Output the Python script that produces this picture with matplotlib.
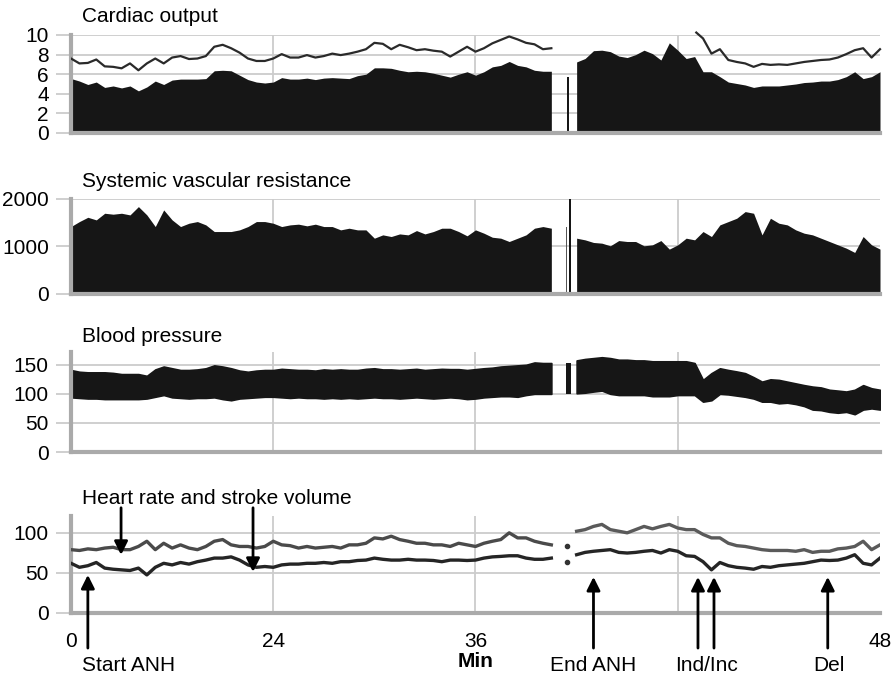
import numpy as np
import matplotlib
matplotlib.use("Agg")
import matplotlib.pyplot as plt

plt.rcParams["font.family"] = ["Liberation Sans", "DejaVu Sans"]

# ---- sample times (min): before and after the monitoring gap ----
t_pre = np.arange(0, 28.51, 0.5)
t_post = np.arange(30, 48.01, 0.5)

# ---- cardiac output (L/min) ----
co_fill_pre = [5.56, 5.3, 4.95, 5.2, 4.65, 4.8, 4.6, 4.8, 4.3, 4.7, 5.3, 4.95, 5.4, 5.5, 5.5,
               5.5, 5.55, 6.35, 6.4, 6.35, 5.9, 5.45, 5.2, 5.1, 5.2, 5.65, 5.5, 5.5, 5.6, 5.45,
               5.6, 5.65, 5.6, 5.55, 5.85, 6.0, 6.65, 6.65, 6.6, 6.4, 6.25, 6.3, 6.25, 6.1, 5.9,
               5.7, 6.0, 6.25, 5.9, 6.25, 6.75, 6.9, 7.3, 6.9, 6.75, 6.4, 6.3, 6.3]
co_fill_post = [7.25, 7.6, 8.4, 8.45, 8.3, 7.85, 7.7, 8.0, 8.45, 8.1, 7.45, 9.2, 8.45, 7.6, 7.8,
                6.25, 6.25, 5.75, 5.2, 5.05, 4.9, 4.65, 4.8, 4.8, 4.8, 4.9, 5.0, 5.15, 5.2, 5.3,
                5.3, 5.45, 5.75, 6.25, 5.55, 5.75, 6.25]
co_line_pre = [7.6, 7.1, 7.15, 7.5, 6.8, 6.75, 6.6, 7.1, 6.4, 7.1, 7.6, 7.1, 7.7, 7.85, 7.55,
               7.6, 7.85, 8.8, 9.0, 8.65, 8.2, 7.6, 7.35, 7.35, 7.6, 8.05, 7.7, 7.7, 7.95, 7.7,
               7.85, 8.1, 7.95, 8.1, 8.3, 8.55, 9.2, 9.1, 8.55, 9.0, 8.75, 8.45, 8.55, 8.4, 8.3,
               7.8, 8.3, 8.8, 8.3, 8.65, 9.15, 9.5, 9.85, 9.55, 9.2, 9.05, 8.55, 8.65]
t_co_line_post = [37.1, 37.5, 38, 38.5, 39, 39.5, 40, 40.5, 41, 41.5, 42, 42.5, 43, 43.5, 44,
                  44.5, 45, 45.5, 46, 46.5, 47, 47.5, 48]
co_line_post = [10.25, 9.65, 8.1, 8.55, 7.45, 7.25, 7.1, 6.75, 7.05, 6.95, 7.0, 6.95, 7.1, 7.25,
                7.35, 7.45, 7.5, 7.7, 8.05, 8.45, 8.65, 7.7, 8.55]
co_gap_t, co_gap_val = 29.5, 5.7

# ---- systemic vascular resistance ----
svr_pre = [1420, 1525, 1615, 1560, 1700, 1680, 1700, 1665, 1840, 1665, 1420, 1770, 1560, 1420,
           1490, 1525, 1455, 1315, 1315, 1315, 1350, 1420, 1525, 1525, 1490, 1420, 1455, 1470,
           1435, 1470, 1420, 1420, 1350, 1385, 1350, 1350, 1175, 1245, 1210, 1265, 1245, 1335,
           1265, 1315, 1385, 1385, 1315, 1225, 1350, 1280, 1195, 1175, 1105, 1175, 1245, 1385,
           1420, 1385]
svr_post = [1175, 1140, 1085, 1070, 1015, 1125, 1105, 1105, 1015, 1035, 1125, 945, 1035, 1175,
            1140, 1315, 1210, 1455, 1525, 1595, 1735, 1700, 1245, 1595, 1490, 1455, 1350, 1280,
            1245, 1175, 1105, 1035, 965, 875, 1210, 1035, 945]
svr_gap_t = [29.4, 29.6]
svr_gap_val = [1400, 2000]

# ---- blood pressure (systolic / diastolic envelope, mmHg) ----
bp_sys_pre = [141, 138, 137, 137, 137, 136, 134, 134, 134, 131, 142, 147, 144, 141, 141, 142,
              144, 149, 147, 144, 140, 138, 140, 141, 141, 143, 142, 141, 141, 140, 142, 141,
              142, 141, 141, 143, 144, 142, 142, 141, 142, 143, 141, 142, 143, 142.5, 142.5,
              141, 142.5, 144, 145, 147, 148, 149, 150, 154, 153, 153]
bp_dia_pre = [94, 93, 92, 92, 91, 91, 91, 91, 91, 92, 95, 98, 94, 93, 92, 93, 93, 94, 91, 89,
              92, 93, 94, 95, 95, 94, 93, 94, 93, 93, 92, 93, 92, 93, 92, 93, 94, 93, 93, 92,
              93, 94, 93, 92, 93, 94, 93, 91, 92, 94, 95, 96, 96, 95, 98, 100, 100, 100]
bp_sys_post = [157.5, 160, 161.5, 163, 161.5, 158.7, 158.7, 157.5, 157.5, 156, 156, 156, 156,
               156, 153, 124, 135.6, 144, 141, 138.5, 135.6, 128.7, 121, 125, 124, 121, 118,
               115, 112.5, 111, 107, 105.6, 104, 107, 115, 109.6, 107]
bp_dia_post = [101, 102, 104, 105.6, 100, 98, 98, 98, 98, 96, 96, 96, 98, 98, 98, 86.6, 89,
               100, 99, 97, 95, 92, 86.6, 86.6, 83.7, 84.8, 82.5, 79, 73, 72, 69, 67.5, 69, 65,
               73, 75, 73]
bp_gap_t, bp_gap_sys, bp_gap_dia = 29.5, 153, 100

# ---- heart rate and stroke volume ----
hr_pre = [79, 78, 80, 79, 81, 82, 79, 79, 83, 89.5, 79, 87, 81, 85, 81, 79, 83, 89.5, 91.6, 85,
          83, 83, 81, 83, 89.5, 85, 84, 81, 83, 81, 82, 83, 81, 85, 85, 87, 93.7, 92.4, 95.8,
          91.6, 89.5, 87, 87, 85, 85, 83, 87, 85, 83, 87, 89.5, 91.6, 100, 93.7, 93.7, 89.5,
          87, 85]
hr_post = [102, 104, 108, 110.5, 104, 102, 100, 104, 108, 105, 108, 110.5, 106, 104, 104, 98,
           93.7, 93.7, 87, 84, 83, 81, 79, 78, 78, 78, 77, 79, 75.6, 77, 77, 80, 81, 83, 89.5,
           79, 85]
sv_pre = [62, 57, 59, 63, 56, 54.6, 53.8, 53, 56, 47.5, 57, 62, 60, 63, 61, 64, 66, 68.5, 68.5,
          70, 66, 60, 57, 58, 57, 60, 61, 61, 62, 62, 63, 62, 64, 64, 65.5, 66, 68.5, 67, 66,
          66, 67, 66, 66, 65.5, 64, 66, 66, 65.5, 66, 68.5, 70, 70.6, 71.4, 71.4, 68.5, 67, 67,
          68.5]
sv_post = [72.7, 75.6, 77, 78, 79, 75.6, 74.8, 75.6, 77, 78, 74.8, 79, 77, 71.4, 70.6, 64,
           53.8, 63, 59, 57, 56, 54.6, 58, 57, 59, 60, 61, 62, 64, 66, 65.5, 66, 68.5, 72.7, 62,
           60, 68.5]
gap_dot_t = 29.4
gap_dot_hr, gap_dot_sv = 83, 64

# ---- axis labelling ----
x_tick_pos = [0, 12, 24, 48]
x_tick_lab = ["0", "24", "36", "48"]
grid_x = [12, 24, 36]

# event markers: (time, tip value)
events_up = [(1.0, 47.5), (31.0, 45), (37.2, 45), (38.15, 45), (44.9, 45)]
events_down = [(2.97, 72.5), (10.8, 51.25)]
event_labels = [(0.65, "Start ANH", "left"), (31.0, "End ANH", "center"),
                (37.68, "Ind/Inc", "center"), (44.95, "Del", "center")]

INK = "#161616"
GRID = "#cccccc"
SPINE = "#aaaaaa"
FS = 15

W, H = 894, 675
fig = plt.figure(figsize=(W / 100, H / 100), dpi=100)


def make_axes(top_px, bottom_px):
    return fig.add_axes([71 / W, 1 - bottom_px / H, 809 / W, (bottom_px - top_px) / H])


def style(ax, ylim, yticks, title, title_off):
    ax.set_xlim(0, 48)
    ax.set_ylim(*ylim)
    ax.set_yticks(yticks)
    ax.set_yticklabels([str(v) for v in yticks], fontsize=FS)
    ax.yaxis.grid(True, color=GRID, lw=1.3, zorder=0)
    ax.set_axisbelow(True)
    for gx in grid_x:
        ax.axvline(gx, color=GRID, lw=1.3, zorder=0)
    ax.tick_params(axis="y", length=11, width=1.3, color=GRID, pad=5, labelsize=FS)
    for s in ("top", "right"):
        ax.spines[s].set_visible(False)
    for s in ("left", "bottom"):
        ax.spines[s].set_color(SPINE)
        ax.spines[s].set_linewidth(3)
    ax.set_xticks([])
    ax.annotate(title, xy=(0, 1), xycoords="axes fraction", xytext=(11, title_off),
                textcoords="offset pixels", ha="left", va="center", fontsize=FS)


# ---- cardiac output ----
ax1 = make_axes(35, 133)
style(ax1, (0, 10), [0, 2, 4, 6, 8, 10], "Cardiac output", 18)
ax1.fill_between(t_pre, 0, co_fill_pre, color=INK, lw=0, zorder=2)
ax1.fill_between(t_post, 0, co_fill_post, color=INK, lw=0, zorder=2)
ax1.bar(co_gap_t, co_gap_val, width=0.14, color=INK, zorder=2)
ax1.plot(t_pre, co_line_pre, color="#2a2a2a", lw=1.6, zorder=3)
ax1.plot(t_co_line_post, co_line_post, color="#2a2a2a", lw=1.6, zorder=3, clip_on=False)

# ---- systemic vascular resistance ----
ax2 = make_axes(199, 294)
style(ax2, (0, 2000), [0, 1000, 2000], "Systemic vascular resistance", 17)
ax2.fill_between(t_pre, 0, svr_pre, color=INK, lw=0, zorder=2)
ax2.fill_between(t_post, 0, svr_post, color=INK, lw=0, zorder=2)
ax2.bar(svr_gap_t, svr_gap_val, width=0.1, color=["#555555", INK], zorder=2)

# ---- blood pressure ----
ax3 = make_axes(352, 452)
style(ax3, (0, 172), [0, 50, 100, 150], "Blood pressure", 15)
ax3.fill_between(t_pre, bp_dia_pre, bp_sys_pre, color=INK, lw=1.2, edgecolor=INK, zorder=2)
ax3.fill_between(t_post, bp_dia_post, bp_sys_post, color=INK, lw=1.2, edgecolor=INK, zorder=2)
ax3.bar(bp_gap_t, bp_gap_sys - bp_gap_dia, bottom=bp_gap_dia, width=0.28, color=INK, zorder=2)

# ---- heart rate and stroke volume ----
ax4 = make_axes(516, 613)
style(ax4, (0, 121), [0, 50, 100], "Heart rate and stroke volume", 18)
ax4.plot(t_pre, hr_pre, color="#4a4a4a", lw=2.4, zorder=3)
ax4.plot(t_post, hr_post, color="#5a5a5a", lw=2.4, zorder=3)
ax4.plot(t_pre, sv_pre, color="#252525", lw=2.4, zorder=3)
ax4.plot(t_post, sv_post, color="#252525", lw=2.4, zorder=3)
ax4.plot([gap_dot_t, gap_dot_t], [gap_dot_hr, gap_dot_sv], "o", color="#333333", ms=3, zorder=3)

ax4.set_xticks(x_tick_pos)
ax4.set_xticklabels(x_tick_lab, fontsize=FS)
ax4.tick_params(axis="x", length=0, pad=14)
ax4.text(24, -61, "Min", ha="center", va="center", fontsize=FS, fontweight="bold")

arrow = dict(arrowstyle="-|>", color="black", lw=2, mutation_scale=20, shrinkA=0, shrinkB=0)
for tx, tip in events_up:
    ax4.annotate("", xy=(tx, tip), xytext=(tx, -43.75), arrowprops=arrow,
                 annotation_clip=False)
for tx, tip in events_down:
    ax4.annotate("", xy=(tx, tip), xytext=(tx, 131.25), arrowprops=arrow,
                 annotation_clip=False)
for tx, lab, ha in event_labels:
    ax4.text(tx, -65, lab, ha=ha, va="center", fontsize=FS)

fig.savefig("out.png", dpi=100)
